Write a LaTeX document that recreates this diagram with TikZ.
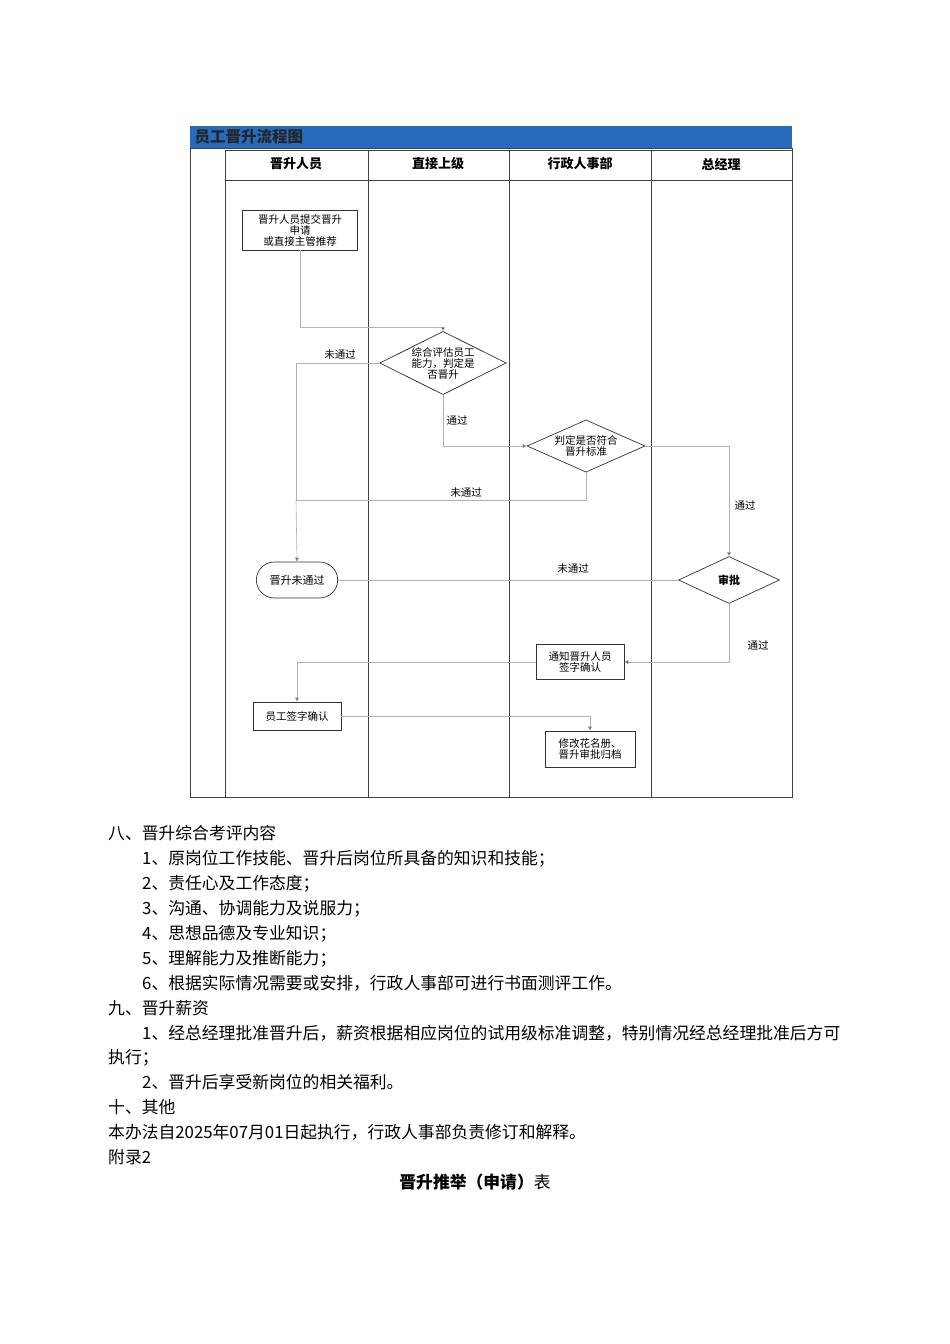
\documentclass[tikz,border=0pt]{standalone}
\usepackage{fontspec}
\setmainfont{Noto Sans CJK SC}
\usetikzlibrary{shapes.geometric,shapes.misc,arrows.meta}
\begin{document}
\begin{tikzpicture}[x=1pt,y=-1pt,
  lane/.style={draw=black!75,line width=0.9pt},
  flow/.style={draw=black!30,line width=0.6pt},
  arr/.style={flow,-{Triangle[length=4pt,width=4pt,fill=black!80]}},
  box/.style={draw=black!80,line width=0.7pt,inner sep=1pt,font=\fontsize{10.5}{11}\selectfont,align=center},
  dia/.style={diamond,aspect=2,draw=black!80,line width=0.7pt,inner sep=0pt,font=\fontsize{10.5}{11}\selectfont,align=center},
  lbl/.style={font=\fontsize{10.5}{11}\selectfont},
  body/.style={anchor=base west,font=\fontsize{16.8}{18}\selectfont,inner sep=0pt}]
\useasboundingbox (0,0) rectangle (950,1344);
\fill[white] (0,0) rectangle (950,1344);
% header
\fill[blue!55!cyan!70!black!85] (190,126) rectangle (792,148);
\node[anchor=west,font=\bfseries\fontsize{15.5}{16}\selectfont,text=black!85] (title) at (191,137) {员工晋升流程图};
\draw[lane] (190,148) rectangle (792,797);
\draw[lane] (225,150) -- (225,797);
\draw[lane] (368,150) -- (368,797);
\draw[lane] (509,150) -- (509,797);
\draw[lane] (651,150) -- (651,797);
\draw[lane] (225,150) -- (792,150);
\draw[lane] (225,180) -- (792,180);
\foreach \x/\t in {296/晋升人员,438/直接上级,580/行政人事部,721/总经理}
  \node[font=\bfseries\fontsize{13}{14}\selectfont] at (\x,164) {\t};
% nodes
\node[box,minimum width=115pt,minimum height=40pt] (b1) at (300,230) {晋升人员提交晋升\\申请\\或直接主管推荐};
\node[dia,minimum width=117pt,minimum height=61pt] (d1) at (443,363) {综合评估员工\\能力，判定是\\否晋升};
\node[dia,minimum width=118pt,minimum height=48pt] (d2) at (586,446) {判定是否符合\\晋升标准};
\node[draw=black!80,line width=0.7pt,rounded rectangle,minimum width=88pt,minimum height=36pt,font=\fontsize{11}{12}\selectfont] (t1) at (297,580) {晋升未通过};
\node[dia,minimum width=101pt,minimum height=47pt,font=\bfseries\fontsize{11}{12}\selectfont] (d3) at (729,580) {审批};
\node[box,minimum width=88pt,minimum height=35pt] (n1) at (580,662) {通知晋升人员\\签字确认};
\node[box,minimum width=88pt,minimum height=28pt] (s1) at (297,716) {员工签字确认};
\node[box,minimum width=90pt,minimum height=36pt] (a1) at (590,749) {修改花名册、\\晋升审批归档};
\coordinate (j1) at (296,500);
% connectors
\draw[arr] (b1.south) |- (443,327) -- (d1.north);
\draw[flow] (d1.west) -| (j1);
\draw[arr] (j1) -- (t1.north);
\draw[arr] (d1.south) |- (d2.west);
\draw[arr] (d2.east) -| (d3.north);
\draw[flow] (d2.south) |- (j1);
\draw[flow] (d3.west) -- (t1.east);
\draw[arr] (d3.south) |- (n1.east);
\draw[arr] (n1.west) -| (s1.north);
\draw[arr] (s1.east) -| (a1.north);
\node[lbl] (l1) at (340,355) {未通过};
\node[lbl] (l2) at (457,420) {通过};
\node[lbl] (l3) at (466,493) {未通过};
\node[lbl] (l4) at (745,505) {通过};
\node[lbl] (l5) at (573,569) {未通过};
\node[lbl] (l6) at (758,645) {通过};
% body text
\node[body] (p1) at (108,839) {八、晋升综合考评内容};
\node[body] (p2) at (142,864) {1、原岗位工作技能、晋升后岗位所具备的知识和技能；};
\node[body] (p3) at (142,889) {2、责任心及工作态度；};
\node[body] (p4) at (142,914) {3、沟通、协调能力及说服力；};
\node[body] (p5) at (142,939) {4、思想品德及专业知识；};
\node[body] (p6) at (142,964) {5、理解能力及推断能力；};
\node[body] (p7) at (142,989) {6、根据实际情况需要或安排，行政人事部可进行书面测评工作。};
\node[body] (p8) at (108,1014) {九、晋升薪资};
\node[body] (p9) at (142,1039) {1、经总经理批准晋升后，薪资根据相应岗位的试用级标准调整，特别情况经总经理批准后方可};
\node[body] (p10) at (108,1063) {执行；};
\node[body] (p11) at (142,1088) {2、晋升后享受新岗位的相关福利。};
\node[body] (p12) at (108,1113) {十、其他};
\node[body] (p13) at (108,1138) {本办法自2025年07月01日起执行，行政人事部负责修订和解释。};
\node[body] (p14) at (108,1163) {附录2};
\node[anchor=base,font=\fontsize{16.8}{18}\selectfont,inner sep=0pt] (p15) at (475,1188) {\textbf{晋升推举（申请）}表};
\end{tikzpicture}
\end{document}
